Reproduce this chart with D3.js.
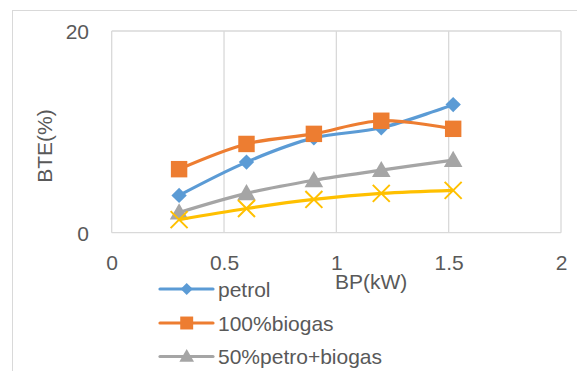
<!DOCTYPE html>
<html>
<head>
<meta charset="utf-8">
<script src="https://cdn.jsdelivr.net/npm/d3@7"></script>
<style>
  html, body { margin: 0; padding: 0; background: #fff; }
  svg { display: block; }
  text { font-family: "Liberation Sans", Arial, sans-serif; fill: #595959; }
</style>
</head>
<body>
<svg id="chart" width="577" height="371"></svg>
<script>
// ---- data ----
const bp = [0.3, 0.6, 0.9, 1.2, 1.52];
const petrol = [3.7, 7.0, 9.4, 10.4, 12.7];
const biogas100 = [6.3, 8.8, 9.8, 11.1, 10.3];
const petroBiogas50 = [2.0, 3.9, 5.2, 6.2, 7.2];
const series4 = [1.3, 2.4, 3.3, 3.9, 4.2];
const seriesNames = ["petrol", "100%biogas", "50%petro+biogas"];
const xTicks = [0, 0.5, 1, 1.5, 2];
const yTicks = [0, 20];
const xTitle = "BP(kW)";
const yTitle = "BTE(%)";

// ---- layout ----
const svg = d3.select("#chart");
const plotL = 111.7, plotR = 561, plotT = 31, plotB = 232.7;
const x = d3.scaleLinear().domain([0, 2]).range([plotL, plotR]);
const y = d3.scaleLinear().domain([0, 20]).range([plotB, plotT]);
const gridColor = "#D9D9D9";
const fs = 21;

// outer chart border
svg.append("rect").attr("x", 12.5).attr("y", 10.5).attr("width", 700).attr("height", 500)
  .attr("fill", "none").attr("stroke", gridColor).attr("stroke-width", 1);

// vertical gridlines
svg.append("g").selectAll("line").data(xTicks).join("line")
  .attr("x1", d => x(d)).attr("x2", d => x(d))
  .attr("y1", y(20)).attr("y2", y(0))
  .attr("stroke", gridColor).attr("stroke-width", 1.3);
// horizontal gridlines
svg.append("g").selectAll("line").data(yTicks).join("line")
  .attr("x1", x(0)).attr("x2", x(2))
  .attr("y1", d => y(d)).attr("y2", d => y(d))
  .attr("stroke", gridColor).attr("stroke-width", 1.3);

// x axis labels
const gx = svg.append("g").attr("transform", `translate(0,${plotB})`)
  .call(d3.axisBottom(x).tickValues(xTicks).tickSize(0).tickFormat(d3.format("")));
gx.select(".domain").remove();
gx.selectAll("text").attr("y", 30.3).attr("dy", "0.35em")
  .style("font-size", fs + "px").style("fill", "#595959").style("font-family", "Liberation Sans, Arial, sans-serif");

// y axis labels
const gy = svg.append("g").attr("transform", `translate(89,0)`)
  .call(d3.axisLeft(y).tickValues(yTicks).tickSize(0).tickPadding(0).tickFormat(d3.format("")));
gy.select(".domain").remove();
gy.selectAll("text").attr("dy", "0.35em")
  .style("font-size", fs + "px").style("fill", "#595959").style("font-family", "Liberation Sans, Arial, sans-serif");

// axis titles
svg.append("text").attr("x", 335).attr("y", 288.5).style("font-size", fs + "px").text(xTitle);
svg.append("text").attr("transform", "translate(52,146) rotate(-90)")
  .attr("text-anchor", "middle").style("font-size", fs + "px").text(yTitle);

// ---- series ----
const colors = ["#5B9BD5", "#ED7D31", "#A5A5A5", "#FFC000"];
const values = [petrol, biogas100, petroBiogas50, series4];
const markerPath = [
  s => d3.symbol(d3.symbolSquare, 118 * s)(),  // diamond (rotated)
  s => d3.symbol(d3.symbolSquare, 270 * s)(),
  s => d3.symbol(d3.symbolTriangle, 150 * s)(),
  s => d3.symbol(d3.symbolX, 190 * s)()
];
const markerRot = [45, 0, 0, 0];

const line = d3.line().x(d => x(d[0])).y(d => y(d[1])).curve(d3.curveCardinal.tension(0));

values.forEach((vals, i) => {
  const pts = bp.map((b, j) => [b, vals[j]]);
  const g = svg.append("g");
  g.append("path").attr("d", line(pts)).attr("fill", "none")
    .attr("stroke", colors[i]).attr("stroke-width", 3.2).attr("stroke-linejoin", "round");
  g.selectAll("path.m").data(pts).join("path").attr("class", "m")
    .attr("d", markerPath[i](1))
    .attr("transform", d => `translate(${x(d[0])},${y(d[1]) + (i === 2 ? 1.5 : 0)}) rotate(${markerRot[i]})`)
    .attr("fill", i === 3 ? "none" : colors[i])
    .attr("stroke", colors[i]).attr("stroke-width", i === 3 ? 2 : 0);
});

// ---- legend ----
const legY = [289, 323, 356.5];
seriesNames.forEach((name, i) => {
  const g = svg.append("g").attr("transform", `translate(0,${legY[i]})`);
  g.append("line").attr("x1", 160).attr("x2", 213).attr("y1", 0).attr("y2", 0)
    .attr("stroke", colors[i]).attr("stroke-width", 3.2).attr("stroke-linecap", "round");
  g.append("path").attr("d", markerPath[i](0.62))
    .attr("transform", `translate(186.7,${i === 2 ? 1 : 0}) rotate(${markerRot[i]})`)
    .attr("fill", colors[i]);
  g.append("text").attr("x", 218).attr("y", 7.5).style("font-size", fs + "px").text(name);
});
</script>
</body>
</html>
